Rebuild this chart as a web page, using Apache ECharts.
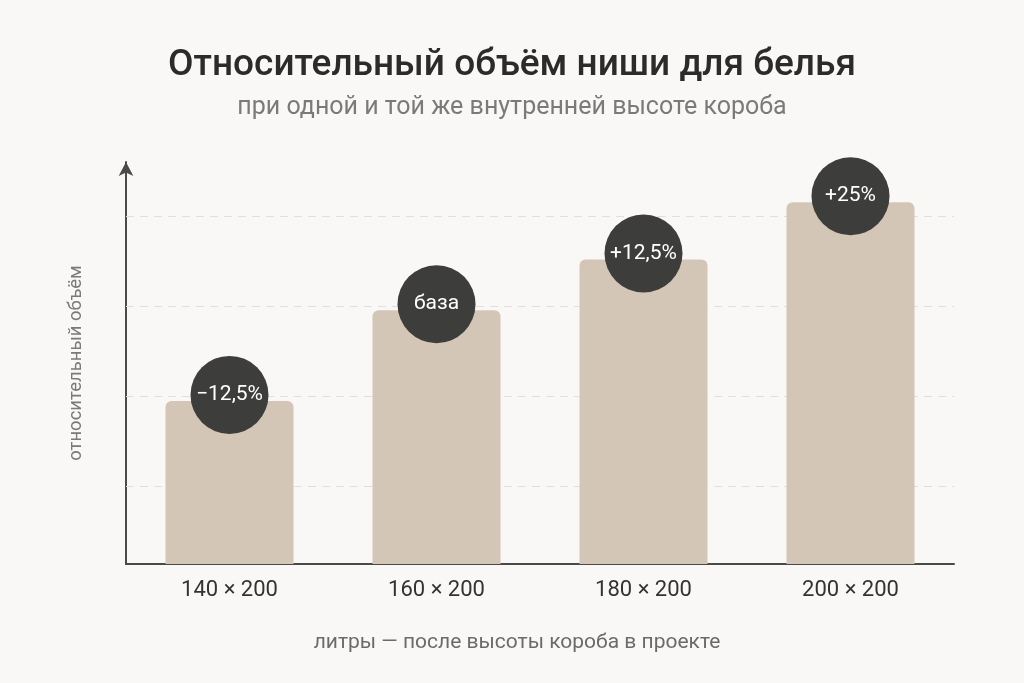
<!DOCTYPE html>
<html><head><meta charset="utf-8">
<script src="https://cdn.jsdelivr.net/npm/echarts@6/dist/echarts.min.js"></script>
<style>html,body{margin:0;padding:0;background:#faf8f6}#c{width:1024px;height:683px}</style>
</head><body><div id="c"></div>
<script>
const titleText = 'Относительный объём ниши для белья';
const subtitleText = 'при одной и той же внутренней высоте короба';
const yAxisName = 'относительный объём';
const xAxisName = 'литры — после высоты короба в проекте';
const categories = ['140 × 200', '160 × 200', '180 × 200', '200 × 200'];
const volumes = [63.3, 98.5, 118.2, 140.4];
const badges = ['−12,5%', 'база', '+12,5%', '+25%'];
const gridValues = [30, 65, 100, 135];

const chart = echarts.init(document.getElementById('c'));
const FONT = 'Roboto, "Noto Sans", sans-serif';
chart.setOption({
  backgroundColor: '#faf8f6',
  textStyle: { fontFamily: FONT },
  title: [
    { text: titleText, left: 'center', top: 42, textStyle: { fontSize: 37, fontWeight: 500, color: '#2b2b2a', fontFamily: FONT } },
    { text: subtitleText, left: 'center', top: 90, textStyle: { fontSize: 25, fontWeight: 'normal', color: '#7a7a78', fontFamily: FONT } },
    { text: xAxisName, left: 512, textAlign: 'center', top: 627, textStyle: { fontSize: 21, fontWeight: 'normal', color: '#6b6b69', fontFamily: FONT } }
  ],
  grid: { left: 126, right: 70, top: 162, bottom: 119 },
  xAxis: {
    type: 'category', data: categories,
    axisLine: { lineStyle: { color: '#4a4a48', width: 2 } },
    axisTick: { show: false },
    axisLabel: { fontSize: 22, color: '#333', margin: 15, fontFamily: FONT },
    splitLine: { show: false }
  },
  yAxis: {
    type: 'value', min: 0, max: 156,
    name: yAxisName, nameLocation: 'middle', nameGap: 40, nameRotate: 90,
    nameTextStyle: { fontSize: 18.5, color: '#7a7a78', fontFamily: FONT },
    axisLine: { show: true, symbol: ['none', 'arrow'], symbolSize: [11, 14], lineStyle: { color: '#4a4a48', width: 2 } },
    axisTick: { show: false }, axisLabel: { show: false }, splitLine: { show: false }
  },
  series: [
    {
      type: 'bar', data: volumes, barWidth: 128, z: 2,
      itemStyle: { color: '#d4c6b6', borderRadius: [6, 6, 0, 0] },
      markLine: {
        silent: true, symbol: ['none', 'none'], z: 1,
        label: { show: false },
        lineStyle: { type: [8, 6], color: '#e2deda', width: 1 },
        data: gridValues.map(v => ({ yAxis: v }))
      }
    },
    {
      type: 'scatter', z: 5,
      data: volumes.map((v, i) => ({ value: v, label: { formatter: badges[i] } })),
      symbol: 'circle', symbolSize: 78, symbolOffset: [0, -6],
      itemStyle: { color: '#3d3d3b', opacity: 1 },
      label: { show: true, position: 'inside', color: '#ffffff', fontSize: 21, fontFamily: FONT },
      silent: true
    }
  ]
});
</script></body></html>
